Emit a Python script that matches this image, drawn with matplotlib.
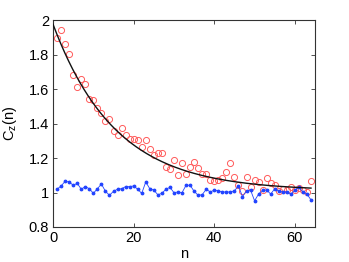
import numpy as np
import matplotlib
matplotlib.use('Agg')
import matplotlib.pyplot as plt

# valores
n = np.arange(1, 65)
red_vals = [1.897, 1.942, 1.863, 1.805, 1.681, 1.612, 1.656, 1.627, 1.544, 1.534,
            1.490, 1.463, 1.414, 1.424, 1.355, 1.335, 1.374, 1.335, 1.308, 1.312,
            1.304, 1.262, 1.304, 1.254, 1.219, 1.231, 1.231, 1.150, 1.134, 1.190,
            1.103, 1.169, 1.109, 1.150, 1.179, 1.140, 1.109, 1.109, 1.071, 1.065,
            1.074, 1.086, 1.119, 1.169, 1.090, 1.042, 1.010, 1.092, 1.030, 1.074,
            1.061, 1.014, 1.086, 1.053, 1.045, 1.007, 1.022, 1.014, 1.034, 1.014,
            1.026, 1.014, 1.005, 1.069]
blue_vals = [1.019, 1.038, 1.065, 1.061, 1.042, 1.053, 1.019, 1.034, 1.022, 0.995,
             1.022, 1.049, 1.007, 0.984, 1.007, 1.019, 1.022, 1.034, 1.034, 1.038,
             1.019, 0.995, 1.061, 1.022, 1.014, 0.987, 0.995, 1.019, 1.030, 0.999,
             1.003, 0.999, 1.042, 1.042, 1.007, 0.984, 0.987, 1.019, 1.003, 1.014,
             1.010, 1.003, 1.003, 1.003, 1.010, 1.038, 0.976, 1.010, 1.014, 0.952,
             0.991, 1.014, 1.014, 0.991, 1.022, 1.007, 1.003, 1.003, 0.991, 1.014,
             1.030, 1.003, 0.991, 0.957]

# ajuste exponencial: a + b*exp(-n/tau)
fit_a, fit_b, fit_tau = 1.01, 0.965, 15.5

xticks = [0, 20, 40, 60]
yticks = [0.8, 1.0, 1.2, 1.4, 1.6, 1.8, 2.0]
ytick_labels = ['0.8', '1', '1.2', '1.4', '1.6', '1.8', '2']

plt.rcParams['font.family'] = ['Liberation Sans', 'DejaVu Sans']
plt.rcParams['mathtext.fontset'] = 'custom'
plt.rcParams['mathtext.rm'] = 'Liberation Sans'
plt.rcParams['mathtext.it'] = 'Liberation Sans'

fig = plt.figure(figsize=(3.49, 2.62), dpi=100)
ax = fig.add_axes([0.152, 0.1336, 0.7507, 0.790])

nf = np.linspace(0, 64, 200)
ax.plot(nf, fit_a + fit_b * np.exp(-nf / fit_tau), color='#111111', lw=1.0, zorder=3)
ax.plot(n, red_vals, 'o', mfc='none', mec='#ff5a5a', mew=0.7, ms=4.4, zorder=2)
ax.plot(n, blue_vals, '.-', color='#2244ff', lw=0.6, ms=3.5, zorder=2)

ax.set_xlim(0, 65)
ax.set_ylim(0.8, 2.0)
ax.set_xticks(xticks)
ax.set_yticks(yticks)
ax.set_yticklabels(ytick_labels)
ax.tick_params(direction='in', length=3, width=0.6, top=True, right=True,
               labelsize=10.5, pad=3, color='#333333')
for s in ax.spines.values():
    s.set_color('#333333')
    s.set_linewidth(0.8)

ax.set_xlabel('n', fontsize=10.5, labelpad=1)
ax.set_ylabel(r'C$_z$(n)', fontsize=10.5, labelpad=7)

fig.savefig('out.png', dpi=100)
